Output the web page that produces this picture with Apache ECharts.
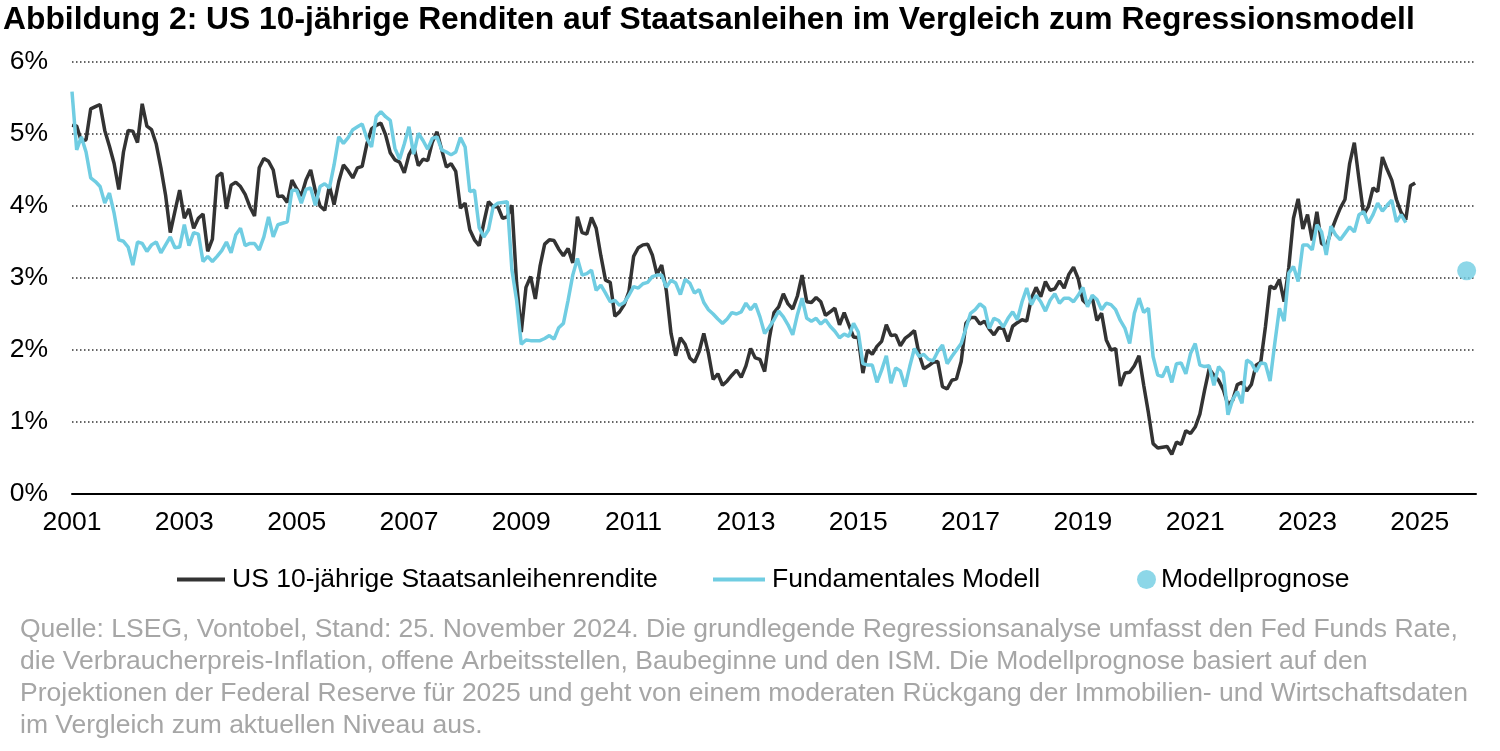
<!DOCTYPE html>
<html>
<head>
<meta charset="utf-8">
<script src="https://cdn.jsdelivr.net/npm/echarts@6/dist/echarts.min.js"></script>
<style>
  html, body { margin: 0; padding: 0; background: #fff; }
  #chart { width: 1500px; height: 751px; }
</style>
</head>
<body>
<div id="chart"></div>
<script>
// Monatsende-Werte, Index 0 = Dez 2000, 1 = Jan 2001, ...
let treasuryYield = [
    5.12,
    5.11, 4.90, 4.92, 5.35, 5.38, 5.41, 5.05, 4.83, 4.59, 4.23, 4.75, 5.05, // 2001
    5.04, 4.88, 5.42, 5.11, 5.06, 4.86, 4.53, 4.15, 3.63, 3.93, 4.22, 3.83, // 2002
    3.96, 3.69, 3.83, 3.89, 3.37, 3.54, 4.41, 4.46, 3.96, 4.29, 4.33, 4.27, // 2003
    4.16, 3.99, 3.86, 4.53, 4.66, 4.62, 4.50, 4.13, 4.14, 4.05, 4.36, 4.24, // 2004
    4.14, 4.36, 4.50, 4.21, 4.00, 3.94, 4.28, 4.02, 4.34, 4.57, 4.49, 4.39, // 2005
    4.53, 4.55, 4.86, 5.07, 5.12, 5.15, 4.99, 4.74, 4.64, 4.61, 4.46, 4.71, // 2006
    4.83, 4.56, 4.65, 4.63, 4.89, 5.03, 4.78, 4.54, 4.59, 4.48, 3.97, 4.04, // 2007
    3.67, 3.53, 3.45, 3.77, 4.06, 3.99, 3.99, 3.83, 3.85, 4.01, 2.93, 2.25, // 2008
    2.87, 3.02, 2.71, 3.16, 3.47, 3.53, 3.52, 3.40, 3.31, 3.41, 3.21, 3.85, // 2009
    3.63, 3.61, 3.84, 3.69, 3.31, 2.97, 2.94, 2.47, 2.53, 2.63, 2.81, 3.30, // 2010
    3.42, 3.46, 3.47, 3.32, 3.05, 3.18, 2.82, 2.23, 1.92, 2.17, 2.08, 1.89, // 2011
    1.83, 1.98, 2.23, 1.95, 1.59, 1.67, 1.51, 1.57, 1.65, 1.72, 1.62, 1.78, // 2012
    2.02, 1.89, 1.87, 1.70, 2.16, 2.52, 2.60, 2.78, 2.64, 2.57, 2.75, 3.04, // 2013
    2.67, 2.66, 2.73, 2.67, 2.48, 2.53, 2.58, 2.35, 2.52, 2.35, 2.18, 2.17, // 2014
    1.68, 2.00, 1.94, 2.05, 2.12, 2.35, 2.20, 2.21, 2.06, 2.16, 2.21, 2.27, // 2015
    1.94, 1.74, 1.78, 1.83, 1.84, 1.49, 1.46, 1.58, 1.60, 1.84, 2.37, 2.45, // 2016
    2.45, 2.36, 2.40, 2.29, 2.21, 2.31, 2.30, 2.12, 2.33, 2.38, 2.42, 2.40, // 2017
    2.72, 2.87, 2.74, 2.95, 2.83, 2.85, 2.96, 2.86, 3.05, 3.15, 2.99, 2.69, // 2018
    2.63, 2.73, 2.41, 2.51, 2.14, 2.00, 2.02, 1.50, 1.68, 1.69, 1.78, 1.92, // 2019
    1.51, 1.13, 0.70, 0.64, 0.65, 0.66, 0.55, 0.72, 0.69, 0.88, 0.84, 0.93, // 2020
    1.11, 1.44, 1.74, 1.65, 1.58, 1.45, 1.24, 1.30, 1.52, 1.55, 1.43, 1.52, // 2021
    1.79, 1.83, 2.32, 2.89, 2.85, 2.98, 2.67, 3.15, 3.83, 4.10, 3.68, 3.88, // 2022
    3.52, 3.92, 3.48, 3.44, 3.64, 3.81, 3.97, 4.09, 4.59, 4.88, 4.37, 3.88, // 2023
    3.99, 4.25, 4.20, 4.68, 4.51, 4.36, 4.09, 3.91, 3.81, 4.28, 4.32        // 2024
];

let modelYield = [
    5.59,
    4.78, 4.96, 4.75, 4.39, 4.34, 4.27, 4.04, 4.18, 3.90, 3.53, 3.51, 3.43, // 2001
    3.18, 3.50, 3.48, 3.37, 3.46, 3.50, 3.35, 3.46, 3.57, 3.42, 3.43, 3.74, // 2002
    3.45, 3.63, 3.61, 3.23, 3.30, 3.23, 3.30, 3.38, 3.50, 3.35, 3.60, 3.69, // 2003
    3.45, 3.48, 3.48, 3.39, 3.57, 3.85, 3.57, 3.74, 3.76, 3.78, 4.22, 4.22, // 2004
    4.04, 4.23, 4.25, 4.01, 4.27, 4.31, 4.25, 4.57, 4.96, 4.87, 4.95, 5.06, // 2005
    5.10, 5.14, 4.94, 4.82, 5.24, 5.31, 5.24, 5.19, 4.80, 4.65, 4.86, 5.10, // 2006
    4.72, 5.01, 4.91, 4.79, 4.94, 4.96, 4.78, 4.75, 4.71, 4.75, 4.95, 4.82, // 2007
    4.20, 4.22, 3.70, 3.57, 3.67, 3.99, 4.04, 4.05, 4.06, 3.11, 2.69, 2.08, // 2008
    2.14, 2.13, 2.13, 2.13, 2.16, 2.20, 2.15, 2.31, 2.37, 2.69, 3.04, 3.27, // 2009
    3.04, 3.06, 3.11, 2.83, 2.90, 2.79, 2.67, 2.69, 2.62, 2.66, 2.76, 2.88, // 2010
    2.86, 2.92, 2.94, 3.02, 3.04, 3.04, 2.87, 2.97, 2.93, 2.77, 2.98, 2.93, // 2011
    2.79, 2.84, 2.66, 2.56, 2.50, 2.43, 2.37, 2.43, 2.52, 2.50, 2.53, 2.65, // 2012
    2.56, 2.64, 2.46, 2.23, 2.32, 2.42, 2.54, 2.46, 2.35, 2.21, 2.49, 2.72, // 2013
    2.44, 2.40, 2.44, 2.36, 2.42, 2.33, 2.26, 2.17, 2.22, 2.19, 2.37, 2.25, // 2014
    1.81, 1.79, 1.79, 1.55, 1.72, 1.92, 1.54, 1.75, 1.71, 1.49, 1.77, 2.02, // 2015
    1.91, 1.94, 1.87, 1.85, 1.98, 2.07, 1.81, 1.91, 2.00, 2.09, 2.30, 2.51, // 2016
    2.56, 2.64, 2.59, 2.30, 2.44, 2.41, 2.32, 2.44, 2.53, 2.42, 2.67, 2.86, // 2017
    2.63, 2.76, 2.67, 2.54, 2.69, 2.78, 2.65, 2.72, 2.72, 2.67, 2.76, 2.87, // 2018
    2.60, 2.76, 2.70, 2.56, 2.65, 2.63, 2.56, 2.41, 2.30, 2.09, 2.51, 2.72, // 2019
    2.52, 2.58, 1.91, 1.65, 1.63, 1.77, 1.55, 1.81, 1.82, 1.67, 1.95, 2.09, // 2020
    1.79, 1.77, 1.78, 1.51, 1.77, 1.69, 1.10, 1.31, 1.42, 1.26, 1.86, 1.82, // 2021
    1.70, 1.82, 1.81, 1.57, 2.09, 2.58, 2.40, 3.07, 3.16, 2.95, 3.46, 3.46, // 2022
    3.39, 3.74, 3.64, 3.32, 3.72, 3.60, 3.53, 3.62, 3.71, 3.64, 3.88, 3.92, // 2023
    3.76, 3.88, 4.04, 3.93, 4.01, 4.08, 3.78, 3.88, 3.77                    // 2024
];

// Modellprognose (Monatsindex, Wert)
let forecastMonth = 298;
let forecastValue = 3.1;

let yTicks = [0, 1, 2, 3, 4, 5, 6];
let firstYear = 2001;

let seriesNames = ['US 10-jährige Staatsanleihenrendite', 'Fundamentales Modell', 'Modellprognose'];

let sourceLines = [
    'Quelle: LSEG, Vontobel, Stand: 25. November 2024. Die grundlegende Regressionsanalyse umfasst den Fed Funds Rate,',
    'die Verbraucherpreis-Inflation, offene Arbeitsstellen, Baubeginne und den ISM. Die Modellprognose basiert auf den',
    'Projektionen der Federal Reserve für 2025 und geht von einem moderaten Rückgang der Immobilien- und Wirtschaftsdaten',
    'im Vergleich zum aktuellen Niveau aus.'
];

const FONT = 'Liberation Sans, Arial, Helvetica, sans-serif';
const BLACK = '#333333';
const BLUE = '#70cde2';
const TXT = 26.5;

let myChart = echarts.init(document.getElementById('chart'));

// Legende: eigene Legende je Eintrag, damit die Abstände wie im Original sitzen
function legendItem(name, left, icon, w, h, pad) {
    return {
        data: [{ name: name, icon: icon }],
        left: left,
        top: 566,
        padding: 0,
        itemWidth: w,
        itemHeight: h,
        textStyle: { fontFamily: FONT, fontSize: TXT, color: '#000', padding: [0, 0, 0, pad] }
    };
}

let option = {
    backgroundColor: '#fff',
    animation: false,
    textStyle: { fontFamily: FONT },
    title: {
        text: 'Abbildung 2: US 10-jährige Renditen auf Staatsanleihen im Vergleich zum Regressionsmodell',
        left: 3,
        top: 4,
        padding: 0,
        textStyle: { fontFamily: FONT, fontSize: 31.8, fontWeight: 'bold', color: '#000' }
    },
    grid: { left: 72, right: 24, top: 62, bottom: 257, containLabel: false },
    legend: [
        legendItem(seriesNames[0], 177, 'rect', 48, 4, 2),
        legendItem(seriesNames[1], 713, 'rect', 52, 4, 2),
        legendItem(seriesNames[2], 1137, 'circle', 19, 19, 0)
    ],
    xAxis: {
        type: 'value',
        min: 0,
        max: 300,
        interval: 24,
        axisLine: { show: true, onZero: false, lineStyle: { color: '#000', width: 2 } },
        axisTick: { show: false },
        splitLine: { show: false },
        axisLabel: {
            margin: 15,
            fontFamily: FONT,
            fontSize: TXT,
            color: '#000',
            formatter: function (v) {
                return v % 24 === 0 && v <= 288 ? String(firstYear + v / 12) : '';
            }
        }
    },
    yAxis: {
        type: 'value',
        min: yTicks[0],
        max: yTicks[yTicks.length - 1],
        interval: 1,
        axisLine: { show: false },
        axisTick: { show: false },
        axisLabel: {
            margin: 24,
            fontFamily: FONT,
            fontSize: TXT,
            color: '#000',
            formatter: '{value}%'
        },
        splitLine: { lineStyle: { color: '#333', width: 1.5, type: [1.5, 2.5] } }
    },
    series: [{
        name: seriesNames[0],
        type: 'line',
        data: treasuryYield.map(function (v, i) { return [i, v]; }),
        symbol: 'none',
        lineStyle: { color: BLACK, width: 3.5 },
        itemStyle: { color: BLACK }
    }, {
        name: seriesNames[1],
        type: 'line',
        data: modelYield.map(function (v, i) { return [i, v]; }),
        symbol: 'none',
        lineStyle: { color: BLUE, width: 3.5 },
        itemStyle: { color: BLUE }
    }, {
        name: seriesNames[2],
        type: 'scatter',
        data: [[forecastMonth, forecastValue]],
        symbol: 'circle',
        symbolSize: 19,
        itemStyle: { color: BLUE }
    }],
    graphic: [{
        type: 'text',
        left: 20,
        top: 614,
        style: {
            text: sourceLines.join('\n'),
            font: TXT + 'px ' + FONT,
            fill: '#a6a6a6',
            lineHeight: 32
        }
    }]
};

myChart.setOption(option);
</script>
</body>
</html>
